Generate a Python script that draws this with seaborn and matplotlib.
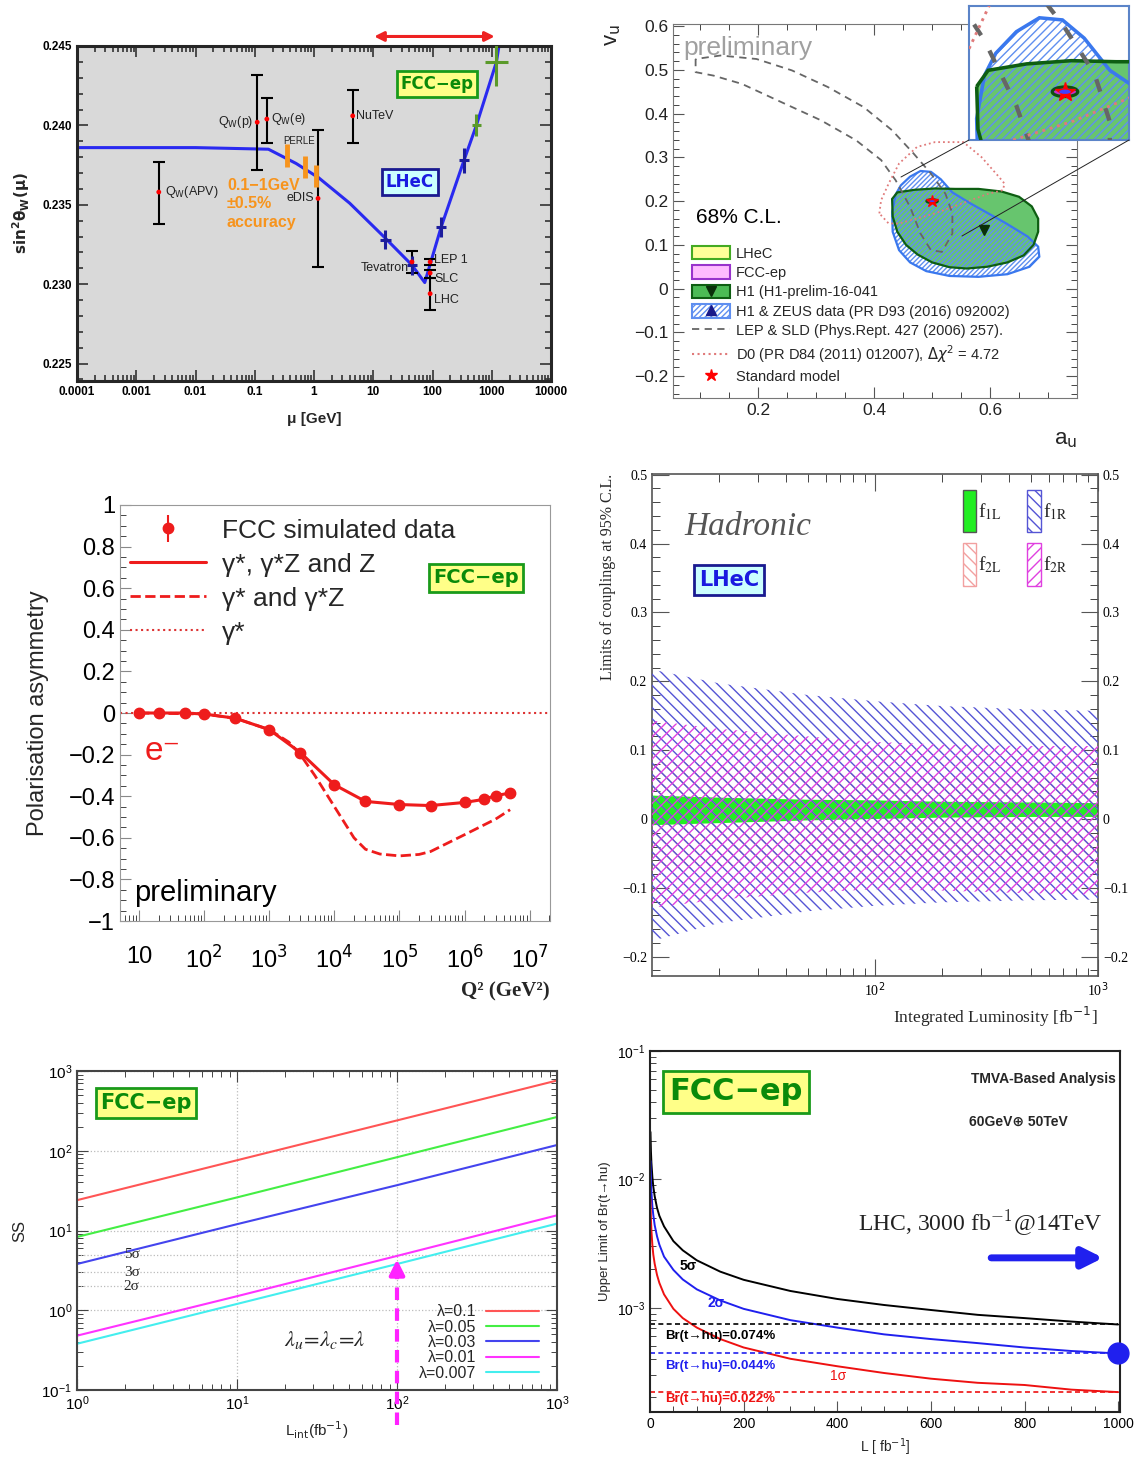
import numpy as np
import matplotlib
matplotlib.use("Agg")
import matplotlib.pyplot as plt
import matplotlib.ticker as mticker
from matplotlib.patches import Patch, Ellipse
from matplotlib.lines import Line2D
import seaborn as sns

sns.set_style("ticks")
plt.rcParams['font.family'] = ['Liberation Sans', 'DejaVu Sans']
plt.rcParams['hatch.linewidth'] = 1.0
plt.rcParams['axes.unicode_minus'] = True

# ---------------- data ----------------
# panel 1: running of sin2 theta_W
mu_curve = [1e-4, 0.01, 0.17, 0.5, 1.2, 4.0, 15, 45, 74, 140, 340, 550, 1200, 1350]
s2w_curve = [0.2386, 0.2386, 0.2385, 0.2376, 0.2367, 0.2351, 0.2330, 0.2312, 0.2301,
             0.2336, 0.2378, 0.2400, 0.2440, 0.2452]
exp_mu = [0.0024, 0.11, 0.16, 1.17, 4.5, 45, 91.2, 91.2, 91.2]
exp_s2w = [0.2358, 0.2402, 0.2404, 0.2354, 0.2406, 0.2314, 0.2314, 0.2307, 0.2294]
exp_lo = [0.2338, 0.2372, 0.2389, 0.2311, 0.2389, 0.2307, 0.2312, 0.2304, 0.2284]
exp_hi = [0.2377, 0.2432, 0.2417, 0.2397, 0.2422, 0.2321, 0.2316, 0.2309, 0.2304]
perle_mu = [0.35, 0.7, 1.1]
perle_s2w = [0.2381, 0.2374, 0.2368]
perle_err = [0.0007, 0.0007, 0.0007]
lhec_mu = [16, 45, 140, 340]
lhec_s2w = [0.2328, 0.2312, 0.2336, 0.2378]
lhec_err = [0.0006, 0.0006, 0.0006, 0.0008]
fcc_mu = [550, 1200]
fcc_s2w = [0.2400, 0.2440]
fcc_err = [0.0007, 0.0015]

# panel 2: 68% CL contours in (a_u, v_u)
h1_a = [0.431, 0.440, 0.470, 0.505, 0.540, 0.580, 0.620, 0.650, 0.672, 0.683, 0.683, 0.675,
        0.658, 0.630, 0.595, 0.560, 0.530, 0.500, 0.475, 0.455, 0.440, 0.432]
h1_v = [0.205, 0.220, 0.226, 0.229, 0.228, 0.228, 0.222, 0.210, 0.188, 0.160, 0.130, 0.100,
        0.076, 0.060, 0.050, 0.046, 0.049, 0.060, 0.078, 0.100, 0.130, 0.165]
hz_a = [0.437, 0.446, 0.462, 0.480, 0.498, 0.515, 0.535, 0.566, 0.597, 0.628, 0.665, 0.683,
        0.685, 0.668, 0.630, 0.580, 0.530, 0.490, 0.462, 0.443, 0.432, 0.431]
hz_v = [0.215, 0.236, 0.256, 0.269, 0.267, 0.250, 0.220, 0.195, 0.172, 0.149, 0.119, 0.096,
        0.073, 0.050, 0.033, 0.027, 0.029, 0.040, 0.060, 0.088, 0.130, 0.175]
lep_a = [0.092, 0.092, 0.123, 0.172, 0.234, 0.308, 0.369, 0.412, 0.437, 0.462, 0.480, 0.498,
         0.517, 0.535, 0.535, 0.523, 0.498, 0.468, 0.431, 0.382, 0.320, 0.258, 0.197, 0.135]
lep_v = [0.525, 0.495, 0.487, 0.468, 0.430, 0.385, 0.339, 0.294, 0.248, 0.187, 0.126, 0.088,
         0.084, 0.126, 0.172, 0.217, 0.263, 0.309, 0.362, 0.415, 0.461, 0.499, 0.525, 0.533]
d0_a = [0.409, 0.412, 0.425, 0.443, 0.474, 0.505, 0.554, 0.585, 0.615, 0.625, 0.622, 0.597,
        0.566, 0.505, 0.443, 0.425]
d0_v = [0.172, 0.202, 0.240, 0.286, 0.324, 0.335, 0.335, 0.301, 0.256, 0.240, 0.225, 0.217,
        0.202, 0.172, 0.149, 0.149]
sm_point = (0.5, 0.2)
h1_best = (0.59, 0.135)

# panel 3: polarisation asymmetry
q2_data = [10, 20, 50, 100, 300, 1e3, 3e3, 1e4, 3e4, 1e5, 3e5, 1e6, 2e6, 3e6, 5e6]
asym_data = [0.0, 0.0, 0.0, -0.005, -0.025, -0.08, -0.19, -0.345, -0.425, -0.44, -0.445,
             -0.43, -0.415, -0.397, -0.385]
q2_gz = [10, 100, 300, 1e3, 2e3, 3e3, 5e3, 1e4, 2e4, 3e4, 5e4, 1e5, 2e5, 3e5, 1e6, 3e6, 5e6]
asym_gz = [0.0, -0.005, -0.025, -0.08, -0.14, -0.2, -0.3, -0.45, -0.6, -0.655, -0.678,
           -0.687, -0.68, -0.666, -0.585, -0.51, -0.465]

# panel 4: coupling limits vs luminosity
lum4 = [10, 20, 50, 100, 200, 500, 1000]
f1R_hi = [0.217, 0.197, 0.180, 0.171, 0.164, 0.159, 0.157]
f1R_lo = [-0.177, -0.151, -0.134, -0.126, -0.121, -0.118, -0.117]
f2R_hi = [0.143, 0.131, 0.120, 0.112, 0.108, 0.106, 0.106]
f2R_lo = [-0.129, -0.117, -0.107, -0.102, -0.104, -0.108, -0.110]
f2L_hi = [0.085, 0.078, 0.070, 0.066, 0.062, 0.060, 0.058]
f2L_lo = [-0.075, -0.070, -0.065, -0.062, -0.060, -0.058, -0.057]
f1L_hi = [0.034, 0.031, 0.028, 0.027, 0.025, 0.024, 0.023]
f1L_lo = [-0.009, -0.006, -0.002, 0.000, 0.002, 0.003, 0.003]

# panel 5: signal significance
lum5 = [1, 10, 100, 1000]
ss_01 = [24, 76, 240, 760]
ss_005 = [8.3, 26, 83, 265]
ss_003 = [3.8, 12, 37, 118]
ss_001 = [0.48, 1.5, 4.8, 15.5]
ss_0007 = [0.38, 1.2, 3.8, 12.2]
lam_labels = ['λ=0.1', 'λ=0.05', 'λ=0.03', 'λ=0.01', 'λ=0.007']
sigma_levels = [5, 3, 2]

# panel 6: Br(t->hu) upper limit
lum6 = [1, 2, 3, 5, 7, 10, 15, 20, 30, 50, 70, 100, 150, 200, 300, 400, 500, 600, 700, 800, 900, 1000]
br_5s = [0.0234, 0.0165, 0.0135, 0.0105, 0.0088, 0.0074, 0.0060, 0.0052, 0.0043, 0.0033,
         0.0028, 0.00234, 0.00191, 0.00165, 0.00135, 0.00117, 0.00105, 0.00096, 0.00088,
         0.00083, 0.00078, 0.00074]
br_2s = [0.0139, 0.0098, 0.0080, 0.0062, 0.0053, 0.0044, 0.0036, 0.0031, 0.0025, 0.00197,
         0.00166, 0.00139, 0.00114, 0.00098, 0.0008, 0.0007, 0.00062, 0.00057, 0.00053,
         0.00049, 0.00046, 0.00044]
br_1s = [0.0070, 0.0049, 0.0040, 0.0031, 0.0026, 0.0022, 0.0018, 0.00156, 0.00127, 0.00098,
         0.00083, 0.0007, 0.00057, 0.00049, 0.0004, 0.00035, 0.00031, 0.00028, 0.00026,
         0.00025, 0.00023, 0.00022]
br_lhc = [0.00074, 0.00044, 0.00022]
br_labels = ['Br(t→hu)=0.074%', 'Br(t→hu)=0.044%', 'Br(t→hu)=0.022%']

# ---------------- figure ----------------
W, H = 1137, 1459
fig = plt.figure(figsize=(W / 100, H / 100), dpi=100)


def box(l, t, r, b):
    return [l / W, 1 - b / H, (r - l) / W, (b - t) / H]


def fpos(x, y):
    return x / W, 1 - y / H


def tag(x, y, s, size, fg, bg, ec):
    fig.text(*fpos(x, y), s, ha='center', va='center', fontsize=size, fontweight='bold',
             color=fg, family=['DejaVu Sans'],
             bbox=dict(boxstyle='square,pad=0.22', fc=bg, ec=ec, lw=2))


def root_ticks(ax, both=True):
    ax.tick_params(which='both', direction='in', top=both, right=both)
    ax.tick_params(which='major', length=8)
    ax.tick_params(which='minor', length=4)


def signed(v, _):
    if abs(v) < 1e-9:
        return '0'
    return ('%g' % round(v, 3)).replace('-', '\u2212')


# ===== panel 1 =====
ax1 = fig.add_axes(box(77, 46, 551, 381))
ax1.set_facecolor('#d9d9d9')
ax1.set_xscale('log')
sns.lineplot(x=mu_curve, y=s2w_curve, ax=ax1, color='#2a2af0', lw=2.2, sort=False, estimator=None)
ax1.errorbar(exp_mu, exp_s2w, yerr=[np.subtract(exp_s2w, exp_lo), np.subtract(exp_hi, exp_s2w)],
             fmt='none', ecolor='black', elinewidth=1.5, capsize=4, capthick=1.5, zorder=3)
sns.scatterplot(x=exp_mu, y=exp_s2w, ax=ax1, color='red', s=12, edgecolor='none', zorder=5)
ax1.errorbar(perle_mu, perle_s2w, yerr=perle_err, fmt='none', ecolor='#f7941d', elinewidth=3.5, zorder=4)
hw = 0.09
lm = np.array(lhec_mu)
ax1.errorbar(lhec_mu, lhec_s2w, xerr=[lm * (1 - 10 ** -hw), lm * (10 ** hw - 1)], yerr=lhec_err,
             fmt='none', ecolor='#1c1c9c', elinewidth=2.2, zorder=4)
fm = np.array(fcc_mu)
fhw = np.array([0.08, 0.2])
ax1.errorbar(fcc_mu, fcc_s2w, xerr=[fm * (1 - 10 ** -fhw), fm * (10 ** fhw - 1)], yerr=fcc_err,
             fmt='none', ecolor='#5a9a2a', elinewidth=2.2, zorder=4)
ax1.set_xlim(1e-4, 1e4)
ax1.set_ylim(0.2239, 0.2450)
ax1.set_xticks([1e-4, 1e-3, 1e-2, 0.1, 1, 10, 100, 1000, 1e4])
ax1.set_xticklabels(['0.0001', '0.001', '0.01', '0.1', '1', '10', '100', '1000', '10000'],
                    fontweight='bold', fontsize=8.5)
ax1.xaxis.set_minor_locator(mticker.LogLocator(subs=np.arange(2, 10), numticks=20))
ax1.xaxis.set_minor_formatter(mticker.NullFormatter())
ax1.set_yticks([0.225, 0.230, 0.235, 0.240, 0.245])
ax1.set_yticklabels(['0.225', '0.230', '0.235', '0.240', '0.245'], fontweight='bold', fontsize=8.5)
ax1.yaxis.set_minor_locator(mticker.MultipleLocator(0.001))
root_ticks(ax1)
ax1.tick_params(which='both', width=1.2, colors='#333333', labelcolor='black')
for s in ax1.spines.values():
    s.set_linewidth(2.2)
ax1.set_xlabel('μ [GeV]', fontweight='bold', fontsize=11, labelpad=10)
ax1.set_ylabel(r'$\mathbf{sin^2\theta_W(\mu)}$', fontsize=11, labelpad=8)
for s, x, y, ha, sz in [('Q$_\\mathrm{W}$(APV)', 0.003, 0.2358, 'left', 9),
                        ('Q$_\\mathrm{W}$(p)', 0.095, 0.2402, 'right', 9),
                        ('Q$_\\mathrm{W}$(e)', 0.185, 0.2404, 'left', 9),
                        ('PERLE', 0.3, 0.2390, 'left', 7),
                        ('eDIS', 1.0, 0.2354, 'right', 9),
                        ('NuTeV', 5.1, 0.2406, 'left', 9),
                        ('Tevatron', 40, 0.2310, 'right', 9),
                        ('LEP 1', 108, 0.2315, 'left', 9),
                        ('SLC', 108, 0.2303, 'left', 9),
                        ('LHC', 108, 0.2290, 'left', 9)]:
    ax1.text(x, y, s, ha=ha, va='center', fontsize=sz, color='#222222')
for line, y in [('0.1\u22121GeV', 0.2362), ('\u00b10.5%', 0.23505), ('accuracy', 0.2339)]:
    ax1.text(0.034, y, line, color='#f7941d', fontweight='bold', fontsize=11.5, va='center', ha='left')
ax1.annotate('', xy=(1250, 0.2456), xytext=(9.3, 0.2456),
             arrowprops=dict(arrowstyle='<|-|>', color='#ee2222', lw=2.2, mutation_scale=14),
             annotation_clip=False)
tag(410, 182, 'LHeC', 12, '#1a1ae0', '#ccffff', '#1a1a90')
tag(437, 84, 'FCC\u2212ep', 12, '#0a8a0a', '#ffff88', '#1a9a1a')

# ===== panel 2 =====
ax2 = fig.add_axes(box(673, 24, 1077, 398))
axin = fig.add_axes(box(969, 6, 1129, 140))
for ax, big in [(ax2, False), (axin, True)]:
    k = 1.6 if big else 1.0
    ax.fill(h1_a, h1_v, facecolor='#4cbb55', alpha=0.85, edgecolor='none', zorder=1)
    ax.fill(hz_a, hz_v, facecolor='none', edgecolor='#5f8ff0', hatch='////' if big else '///////', lw=0, zorder=2)
    ax.fill(hz_a, hz_v, facecolor='none', edgecolor='#3a78ee', lw=1.6 * k, zorder=3)
    ax.fill(h1_a, h1_v, facecolor='none', edgecolor='#0e5e12', lw=1.6 * k, zorder=4)
    ax.plot(lep_a + lep_a[:1], lep_v + lep_v[:1], color='#666666', lw=1.3 * k * (1.5 if big else 1),
            ls=(0, (4, 3)) if not big else (0, (3, 4)), zorder=5)
    ax.plot(d0_a + d0_a[:1], d0_v + d0_v[:1], color='#e07a7a', lw=1.3 * k, ls=':', zorder=5)
    ax.add_patch(Ellipse(sm_point, 0.02, 0.009, facecolor='#c030c8', edgecolor='#0e4e12',
                         lw=1.0 * k * 1.4, zorder=6))
    ax.add_patch(Ellipse(sm_point, 0.009, 0.004, facecolor='#4040ff', edgecolor='none', zorder=7))
    ax.plot(*sm_point, marker='*', color='red', ms=9 * k, ls='none', zorder=6.5)
ax2.plot(*h1_best, marker='v', color='#0a300a', ms=7, ls='none', zorder=7)
ax2.set_xlim(0.053, 0.75)
ax2.set_ylim(-0.25, 0.605)
ax2.set_xticks([0.2, 0.4, 0.6])
ax2.xaxis.set_minor_locator(mticker.MultipleLocator(0.05))
ax2.yaxis.set_major_locator(mticker.MultipleLocator(0.1))
ax2.yaxis.set_minor_locator(mticker.MultipleLocator(0.02))
ax2.yaxis.set_major_formatter(mticker.FuncFormatter(signed))
ax2.xaxis.set_major_formatter(mticker.FuncFormatter(signed))
root_ticks(ax2)
ax2.tick_params(labelsize=12.5, colors='#555555', labelcolor='#222222')
for s in ax2.spines.values():
    s.set_color('#777777')
ax2.set_ylabel('v$_\\mathrm{u}$', fontsize=16, loc='top', labelpad=8)
ax2.set_xlabel('a$_\\mathrm{u}$', fontsize=16, loc='right', labelpad=8)
ax2.text(0.071, 0.55, 'preliminary', color='#a0a0a0', fontsize=19, va='center')
ax2.text(0.092, 0.162, '68% C.L.', color='black', fontsize=15, va='center')
axin.set_xlim(0.425, 0.55)
axin.set_ylim(0.155, 0.28)
axin.set_xticks([])
axin.set_yticks([])
for s in axin.spines.values():
    s.set_color('#5b84c8')
    s.set_linewidth(1.5)
fig.add_artist(Line2D([969 / W, 901 / W], [1 - 140 / H, 1 - 177 / H], transform=fig.transFigure,
                      color='#222222', lw=0.7))
fig.add_artist(Line2D([1129 / W, 962 / W], [1 - 140 / H, 1 - 236 / H], transform=fig.transFigure,
                      color='#222222', lw=0.7))
handles2 = [Patch(facecolor='#ffff99', edgecolor='#44aa22', lw=1.5),
            Patch(facecolor='#ffbbff', edgecolor='#9933cc', lw=1.5),
            (Patch(facecolor='#4cbb55', edgecolor='#0e5e12', lw=1.5),
             Line2D([], [], marker='v', color='#0a300a', ls='none', ms=7)),
            (Patch(facecolor='white', edgecolor='#5f8ff0', hatch='//////', lw=1.5),
             Line2D([], [], marker='^', color='#1a1a8a', ls='none', ms=7)),
            Line2D([], [], color='#666666', ls=(0, (4, 3)), lw=1.3),
            Line2D([], [], color='#e07a7a', ls=':', lw=1.5),
            Line2D([], [], marker='*', color='red', ls='none', ms=9)]
labels2 = ['LHeC', 'FCC-ep', 'H1 (H1-prelim-16-041', 'H1 & ZEUS data (PR D93 (2016) 092002)',
           'LEP & SLD (Phys.Rept. 427 (2006) 257).',
           'D0 (PR D84 (2011) 012007), $\\Delta\\chi^2$ = 4.72', 'Standard model']
ax2.legend(handles2, labels2, loc='upper left', bbox_to_anchor=(686 / W, 1 - 240 / H),
           bbox_transform=fig.transFigure, frameon=False, fontsize=10.5, labelspacing=0.32,
           handlelength=2.6, handleheight=1.05, handletextpad=0.4, borderaxespad=0)

# ===== panel 3 =====
ax3 = fig.add_axes(box(120, 505, 550, 921))
ax3.set_xscale('log')
red = '#ee1c1c'
ax3.axhline(0, color='#dd3333', ls=':', lw=1.5, zorder=1)
sns.lineplot(x=q2_gz, y=asym_gz, ax=ax3, color=red, lw=2, linestyle='--', sort=False, estimator=None)
sns.lineplot(x=q2_data, y=asym_data, ax=ax3, color=red, lw=2.2, sort=False, estimator=None)
eb = ax3.errorbar(q2_data, asym_data, yerr=0.01, fmt='o', color=red, ms=7.5, elinewidth=1.5, zorder=5)
ax3.set_xlim(5.1, 2.05e7)
ax3.set_ylim(-1, 1)
ax3.set_xticks([10, 1e2, 1e3, 1e4, 1e5, 1e6, 1e7])
ax3.set_xticklabels(['10', '10$^2$', '10$^3$', '10$^4$', '10$^5$', '10$^6$', '10$^7$'])
ax3.xaxis.set_minor_locator(mticker.LogLocator(subs=np.arange(2, 10), numticks=20))
ax3.xaxis.set_minor_formatter(mticker.NullFormatter())
ax3.yaxis.set_major_locator(mticker.MultipleLocator(0.2))
ax3.yaxis.set_minor_locator(mticker.MultipleLocator(0.05))
ax3.yaxis.set_major_formatter(mticker.FuncFormatter(signed))
root_ticks(ax3, both=False)
ax3.tick_params(labelsize=17, colors='#888888', labelcolor='black')
ax3.tick_params(axis='x', pad=18)
for s in ax3.spines.values():
    s.set_color('#999999')
ax3.set_ylabel('Polarisation asymmetry', fontsize=17, labelpad=14)
ax3.set_xlabel('Q\u00b2 (GeV\u00b2)', fontsize=15, fontweight='bold', loc='right',
               family=['Liberation Serif'], labelpad=6)
h3 = [eb, Line2D([], [], color=red, lw=2.2), Line2D([], [], color=red, lw=2, ls='--'),
      Line2D([], [], color='#dd3333', lw=1.5, ls=':')]
ax3.legend(h3, ['FCC simulated data', 'γ*, γ*Z and Z', 'γ* and γ*Z', 'γ*'], loc='upper left',
           bbox_to_anchor=(119 / W, 1 - 508 / H), bbox_transform=fig.transFigure, frameon=False,
           fontsize=19, labelspacing=0.38, handlelength=2.9, handletextpad=0.6, borderaxespad=0)
fig.text(*fpos(163, 752), 'e\u207b', color=red, fontsize=24, ha='center', va='center')
fig.text(*fpos(205, 893), 'preliminary', color='black', fontsize=21, ha='center', va='center')
tag(476, 578, 'FCC\u2212ep', 14, '#0a8a0a', '#ffff88', '#1a9a1a')

# ===== panel 4 =====
ax4 = fig.add_axes(box(652, 474, 1098, 976))
ax4.set_xscale('log')
ax4.fill_between(lum4, f1L_lo, f1L_hi, facecolor='#22ee22', edgecolor='none', zorder=1)
ax4.fill_between(lum4, f2L_lo, f2L_hi, facecolor='none', edgecolor='#f2a0a0', hatch='\\\\\\', lw=0, zorder=2)
ax4.fill_between(lum4, f1R_lo, f1R_hi, facecolor='none', edgecolor='#5555d5', hatch='\\\\\\', lw=0, zorder=3)
ax4.fill_between(lum4, f2R_lo, f2R_hi, facecolor='none', edgecolor='#e040e0', hatch='///', lw=0, zorder=4)
ax4.set_xlim(10, 1000)
ax4.set_ylim(-0.228, 0.501)
ax4.set_xticks([100, 1000])
ax4.set_xticklabels(['10$^2$', '10$^3$'])
ax4.xaxis.set_minor_locator(mticker.LogLocator(subs=np.arange(2, 10), numticks=20))
ax4.xaxis.set_minor_formatter(mticker.NullFormatter())
ax4.yaxis.set_major_locator(mticker.MultipleLocator(0.1))
ax4.yaxis.set_minor_locator(mticker.MultipleLocator(0.02))
ax4.yaxis.set_major_formatter(mticker.FuncFormatter(signed))
root_ticks(ax4)
ax4.tick_params(which='major', length=12)
ax4.tick_params(which='minor', length=6)
ax4.tick_params(labelright=True, labelsize=10, colors='#555555', labelcolor='black',
                labelfontfamily='Liberation Serif')
for s in ax4.spines.values():
    s.set_color('#555555')
    s.set_linewidth(1.2)
ax4.set_ylabel('Limits of couplings at 95% C.L.', fontsize=11.5, loc='top', family=['Liberation Serif'])
ax4.set_xlabel('Integrated Luminosity [fb$^{-1}$]', fontsize=12.5, loc='right', family=['Liberation Serif'])
h4 = [Patch(facecolor='#22ee22', edgecolor='#555555'),
      Patch(facecolor='white', edgecolor='#f2a0a0', hatch='\\\\\\'),
      Patch(facecolor='white', edgecolor='#5555d5', hatch='\\\\\\'),
      Patch(facecolor='white', edgecolor='#e040e0', hatch='///')]
leg4 = ax4.legend(h4, ['f$_{\\mathrm{1L}}$', 'f$_{\\mathrm{2L}}$', 'f$_{\\mathrm{1R}}$', 'f$_{\\mathrm{2R}}$'],
                  ncol=2, loc='upper left', bbox_to_anchor=(955 / W, 1 - 482 / H),
                  bbox_transform=fig.transFigure, frameon=False, fontsize=14,
                  handlelength=0.7, handleheight=3.0, handletextpad=0.1, columnspacing=1.3,
                  labelspacing=0.55, borderaxespad=0)
for t in leg4.get_texts():
    t.set_family(['Liberation Serif'])
    t.set_math_fontfamily('stix')
fig.text(*fpos(748, 527), 'Hadronic', fontsize=24, style='italic', color='#555555',
         family=['Liberation Serif'], ha='center', va='center')
tag(729, 580, 'LHeC', 15, '#1a1ae0', '#ccffff', '#1a1a90')

# ===== panel 5 =====
ax5 = fig.add_axes(box(77, 1071, 557, 1390))
ax5.set_xscale('log')
ax5.set_yscale('log')
ax5.grid(True, which='major', ls=':', color='#bbbbbb', lw=0.9)
for s in sigma_levels:
    ax5.axhline(s, ls=':', color='#bbbbbb', lw=0.9)
cols5 = ['#ff5555', '#44ee44', '#4444ee', '#ff33ff', '#44eeee']
for vals, c, lab in zip([ss_01, ss_005, ss_003, ss_001, ss_0007], cols5, lam_labels):
    sns.lineplot(x=lum5, y=vals, ax=ax5, color=c, lw=1.5, label=lab, sort=False, estimator=None)
ax5.set_xlim(1, 1000)
ax5.set_ylim(0.1, 1000)
root_ticks(ax5)
ax5.xaxis.set_minor_locator(mticker.LogLocator(subs=np.arange(2, 10), numticks=20))
ax5.yaxis.set_minor_locator(mticker.LogLocator(subs=np.arange(2, 10), numticks=20))
ax5.xaxis.set_minor_formatter(mticker.NullFormatter())
ax5.yaxis.set_minor_formatter(mticker.NullFormatter())
ax5.tick_params(labelsize=11, colors='#444444', labelcolor='black')
for s in ax5.spines.values():
    s.set_color('#444444')
    s.set_linewidth(1.5)
ax5.set_ylabel('SS', fontsize=12, labelpad=10)
ax5.set_xlabel('L$_{\\mathrm{int}}$(fb$^{-1}$)', fontsize=11)
ax5.legend(loc='lower right', bbox_to_anchor=(545 / W, 1 - 1387 / H), bbox_transform=fig.transFigure,
           frameon=False, fontsize=11.5, markerfirst=False, labelspacing=0.02, handlelength=3.3,
           handletextpad=0.6, borderaxespad=0)
for s in sigma_levels:
    ax5.text(2.2, s, '%dσ' % s, fontsize=11, va='center', ha='center', family=['Liberation Serif'])
ax5.plot([100, 100], [0.036, 3.3], ls=(0, (3, 2)), color='#ff22ff', lw=3, clip_on=False)
ax5.annotate('', xy=(100, 4.7), xytext=(100, 3.0),
             arrowprops=dict(arrowstyle='-|>,head_width=0.45,head_length=0.9', color='#ff22ff', lw=3))
fig.text(*fpos(325, 1340), r'$\lambda_u\!=\!\lambda_c\!=\!\lambda$', fontsize=16, ha='center',
         va='center', math_fontfamily='stix')
tag(146, 1103, 'FCC\u2212ep', 15, '#0a8a0a', '#ffff88', '#1a9a1a')

# ===== panel 6 =====
ax6 = fig.add_axes(box(650, 1051, 1120, 1412))
ax6.set_yscale('log')
for vals, c in zip([br_5s, br_2s, br_1s], ['black', '#2020ee', '#ee1111']):
    sns.lineplot(x=lum6, y=vals, ax=ax6, color=c, lw=1.4, sort=False, estimator=None)
ax6.hlines(br_lhc, 0, 1000, colors=['black', '#2020ee', '#ee1111'], linestyles=(0, (3, 2)), lw=1.2)
ax6.plot(lum6[-1], br_lhc[1], 'o', color='#2020ee', ms=15, clip_on=False, zorder=10)
ax6.set_xlim(0, 1004)
ax6.set_ylim(1.54e-4, 0.1)
ax6.xaxis.set_major_locator(mticker.MultipleLocator(200))
ax6.xaxis.set_minor_locator(mticker.MultipleLocator(50))
ax6.yaxis.set_minor_locator(mticker.LogLocator(subs=np.arange(2, 10), numticks=20))
ax6.yaxis.set_minor_formatter(mticker.NullFormatter())
root_ticks(ax6, both=False)
ax6.tick_params(labelsize=10, colors='#555555', labelcolor='black')
for s in ax6.spines.values():
    s.set_color('#222222')
    s.set_linewidth(1.5)
ax6.set_ylabel('Upper Limit of Br(t→hu)', fontsize=9.5)
ax6.set_xlabel('L [ fb$^{-1}$]', fontsize=10)
for lab, c, y in zip(br_labels, ['black', '#2020ee', '#ee1111'], [1336, 1366, 1399]):
    fig.text(*fpos(665, y), lab, color=c, fontsize=9.5, fontweight='bold', va='center')
fig.text(*fpos(688, 1266), '5σ', color='black', fontsize=10, fontweight='bold', ha='center', va='center')
fig.text(*fpos(716, 1303), '2σ', color='#2020ee', fontsize=10, fontweight='bold', ha='center', va='center')
fig.text(*fpos(838, 1376), '1σ', color='#ee1111', fontsize=10, ha='center', va='center')
fig.text(*fpos(1043, 1079), 'TMVA-Based Analysis', fontsize=10, fontweight='bold', ha='center', va='center')
fig.text(*fpos(1018, 1122), '60GeV\u2295 50TeV', fontsize=10, fontweight='bold', ha='center', va='center')
fig.text(*fpos(980, 1223), 'LHC, 3000 fb$^{-1}$@14TeV', fontsize=17, ha='center', va='center',
         family=['Liberation Serif'], color='#222222', math_fontfamily='cm')
ax6.annotate('', xy=(0.97, 0.427), xytext=(0.72, 0.427), xycoords='axes fraction',
             arrowprops=dict(arrowstyle='-|>,head_width=0.6,head_length=1.2', color='#2020ee', lw=5))
tag(736, 1092, 'FCC\u2212ep', 22, '#0a8a0a', '#ffff88', '#1a9a1a')

fig.savefig('out.png', dpi=100)
